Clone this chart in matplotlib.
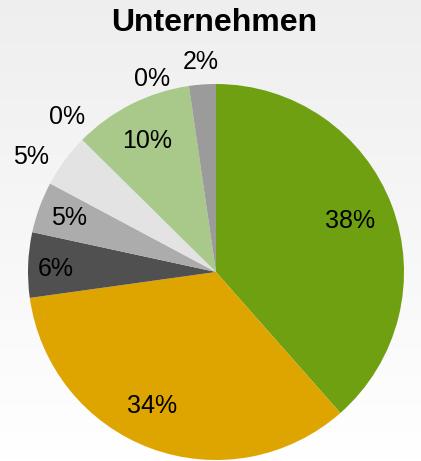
import numpy as np
import matplotlib
matplotlib.use("Agg")
import matplotlib.pyplot as plt

plt.rcParams['font.family'] = ['Liberation Sans', 'DejaVu Sans']

title = "Unternehmen"
values = [38.5, 34.3, 5.6, 4.4, 4.6, 0.0, 10.3, 0.0, 2.3]
labels = ["38%", "34%", "6%", "5%", "5%", "0%", "10%", "0%", "2%"]
colors = ["#6ea012", "#dea400", "#505050", "#acacac", "#e3e3e3",
          "#c8c8c8", "#a9c98a", "#8fa878", "#9b9b9b"]
# label placement style: (radius factor, angle offset in degrees)
label_style = [(0.76, 0), (0.79, -5), (0.85, 1), (0.83, 0), (1.16, 4.5),
               (1.14, -1.5), (0.79, 1), (1.08, 10), (1.12, 0)]

W, H = 421, 461
fig = plt.figure(figsize=(W / 100, H / 100), dpi=100)

# background gradient
bg = fig.add_axes([0, 0, 1, 1])
grad = np.linspace(0.935, 1.0, 256).reshape(-1, 1)
bg.imshow(np.dstack([grad, grad, grad]), aspect='auto', extent=[0, 1, 0, 1],
          interpolation='bilinear')
bg.axis('off')

cx, cy, r = 216, 272, 188
ax = fig.add_axes([(cx - r) / W, (H - cy - r) / H, 2 * r / W, 2 * r / H])
ax.set_zorder(2)
wedges, _ = ax.pie(values, colors=colors, startangle=90, counterclock=False,
                   radius=1.0, wedgeprops=dict(linewidth=0))
ax.set_xlim(-1, 1)
ax.set_ylim(-1, 1)
ax.set_aspect('equal')
ax.axis('off')

for w, lab, (rf, da) in zip(wedges, labels, label_style):
    mid = np.deg2rad((w.theta1 + w.theta2) / 2 + da)
    ax.text(rf * np.cos(mid), rf * np.sin(mid), lab, ha='center', va='center',
            fontsize=18, color='black', clip_on=False)

fig.text(214.5 / W, 1 - 23 / H, title, ha='center', va='center',
         fontsize=23, fontweight='bold')

fig.savefig("out.png", dpi=100)
